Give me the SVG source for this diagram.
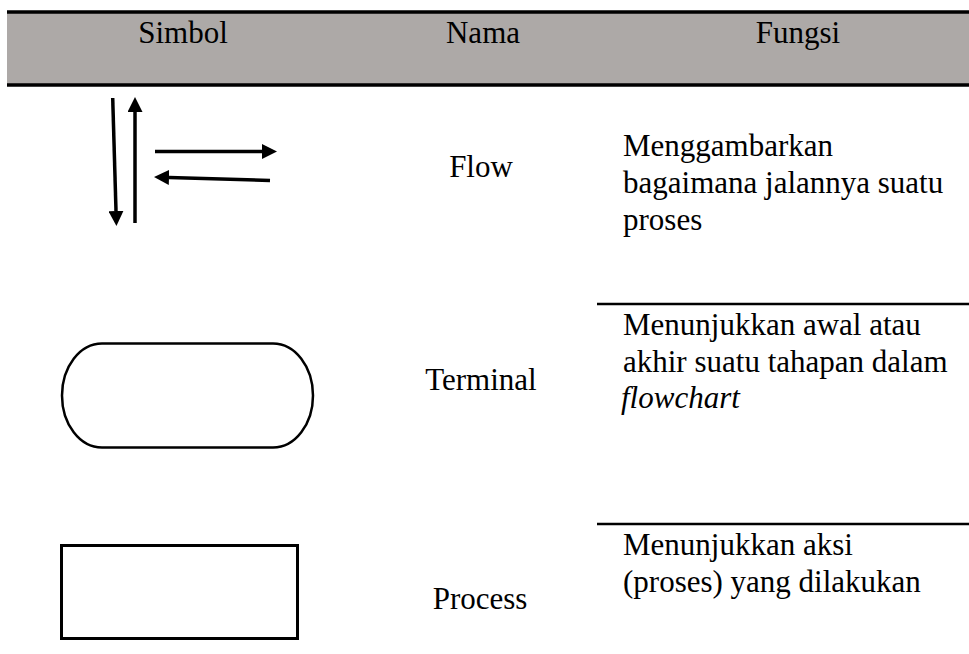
<svg xmlns="http://www.w3.org/2000/svg" width="969" height="654" viewBox="0 0 969 654">
<style>
.t{font-family:"Liberation Serif","Times New Roman",serif;font-size:31px;fill:#000}
.c{text-anchor:middle}
.rule{stroke:#000;stroke-width:3.5;fill:none}
.arr{stroke:#000;stroke-width:3.5;fill:none;marker-end:url(#ah)}
.shape{fill:#fff;stroke:#000}
</style>
<defs>
<marker id="ah" viewBox="0 0 15 15" markerWidth="15" markerHeight="15" refX="0" refY="7.5" orient="auto" markerUnits="userSpaceOnUse">
<path d="M0,0 L15,7.5 L0,15 z" fill="#000"/>
</marker>
</defs>
<rect width="969" height="654" fill="#fff"/>
<g id="header">
<rect x="7" y="12" width="962" height="73" fill="#ada9a7"/>
<line class="rule" x1="7" y1="12" x2="969" y2="12"/>
<line class="rule" x1="7" y1="85" x2="969" y2="85"/>
<text class="t c" x="183" y="43">Simbol</text>
<text class="t c" x="483" y="43">Nama</text>
<text class="t c" x="798" y="43">Fungsi</text>
</g>
<g id="row-lines">
<line x1="597" y1="304" x2="969" y2="304" stroke="#000" stroke-width="2.5"/>
<line x1="597" y1="524" x2="969" y2="524" stroke="#000" stroke-width="2.5"/>
</g>
<g id="flow-arrows">
<line class="arr" x1="112.7" y1="98" x2="116" y2="211"/>
<line class="arr" x1="135" y1="223" x2="135" y2="112"/>
<line class="arr" x1="155" y1="151.5" x2="262" y2="151.5"/>
<line class="arr" x1="270" y1="180.5" x2="169" y2="177.5"/>
</g>
<g id="row-flow">
<text class="t c" x="481" y="177">Flow</text>
<text class="t" x="623" y="156">Menggambarkan</text>
<text class="t" x="623" y="193">bagaimana jalannya suatu</text>
<text class="t" x="623" y="230">proses</text>
</g>
<g id="terminal">
<rect class="shape" x="62" y="343.5" width="251" height="104" rx="40" ry="52" stroke-width="2.5"/>
</g>
<g id="row-terminal">
<text class="t c" x="481" y="390">Terminal</text>
<text class="t" x="623" y="335">Menunjukkan awal atau</text>
<text class="t" x="623" y="372">akhir suatu tahapan dalam</text>
<text class="t" x="621" y="408" font-style="italic">flowchart</text>
</g>
<g id="process">
<rect class="shape" x="61.5" y="545.5" width="236" height="93" stroke-width="3"/>
</g>
<g id="row-process">
<text class="t c" x="480" y="609">Process</text>
<text class="t" x="623" y="555">Menunjukkan aksi</text>
<text class="t" x="623" y="592">(proses) yang dilakukan</text>
</g>
</svg>
